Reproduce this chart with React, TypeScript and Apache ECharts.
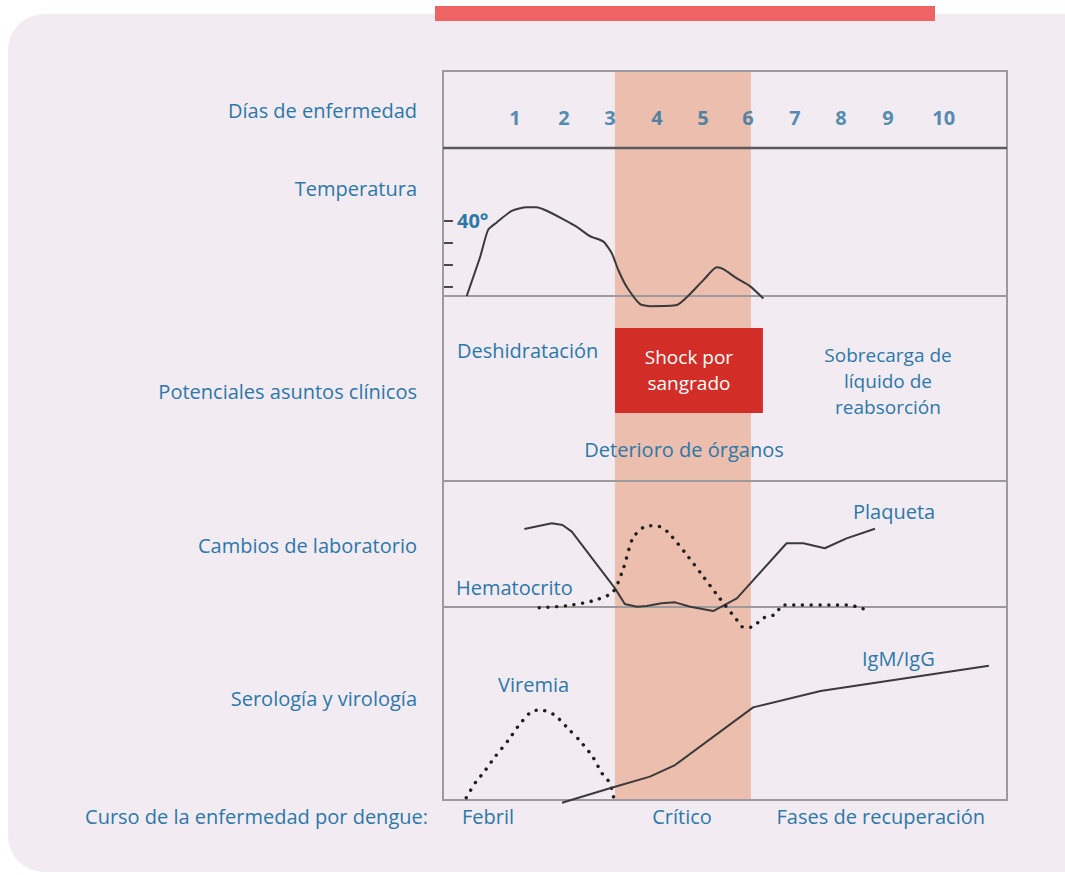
import React, { useEffect, useRef } from "react";
import * as echarts from "echarts";

// ---- data ----
const DAY_MIN = -0.55;
const DAY_MAX = 11.58;

const dayLabels = ["1", "2", "3", "4", "5", "6", "7", "8", "9", "10"];
const dayPositions = [1, 2.05, 3.04, 4.05, 5.04, 6.01, 7.02, 8.01, 9.02, 10.22];

const criticalStart = 3.148;
const criticalEnd = 6.073;

const tempTicks = [37, 38, 39, 40];
const tempLabelValue = [40];
const tempDays = [-0.04, 0.14, 0.25, 0.42, 0.6, 0.93, 1.25, 1.46, 1.68, 2.04, 2.32, 2.61, 2.9, 3.08, 3.22, 3.4, 3.69, 3.91, 4.48, 4.72, 5.05, 5.34, 5.48, 5.77, 6.05, 6.34];
const tempValues = [36.58, 37.68, 38.36, 39.58, 39.91, 40.45, 40.61, 40.61, 40.45, 40.06, 39.73, 39.3, 39.05, 38.52, 37.76, 37.0, 36.21, 36.12, 36.17, 36.58, 37.3, 37.88, 37.8, 37.38, 37.03, 36.47];

const shockDays = [3.15, 6.33];
const shockLevels = [36.8, 82.7];

const plateletDays = [1.2, 1.79, 2.02, 2.22, 3.15, 3.36, 3.62, 3.83, 4.15, 4.44, 4.77, 5.26, 5.77, 6.84, 7.2, 7.66, 8.13, 8.74];
const plateletValues = [61.9, 66.4, 65.1, 59.8, 14.8, 2.4, 0.2, 0.8, 2.9, 3.7, 0.2, -3.2, 6.9, 50.6, 50.6, 46.6, 54.5, 62.1];

const hematocritDays = [1.52, 2.11, 2.66, 3.1, 3.33, 3.53, 3.76, 3.92, 4.12, 4.29, 4.65, 5.01, 5.39, 5.77, 5.91, 6.09, 6.32, 6.61, 6.75, 8.17, 8.35, 8.52];
const hematocritValues = [-0.6, 1.0, 4.8, 11.7, 30.7, 54.5, 63.3, 64.5, 63.7, 59.3, 43.4, 26.0, 7.4, -10.3, -16.1, -16.1, -9.0, -5.6, 1.6, 1.6, 0.2, -1.8];

const viremiaDays = [-0.05, 0.16, 0.32, 0.57, 0.86, 1.06, 1.35, 1.56, 1.85, 2.17, 2.38, 2.67, 2.87, 3.04, 3.12];
const viremiaValues = [1.2, 9.5, 14.1, 22.4, 31.1, 38.0, 45.8, 46.6, 44.0, 36.3, 31.1, 22.4, 13.8, 8.7, 1.2];

const igDays = [2.01, 3.04, 3.9, 4.44, 6.12, 7.57, 11.19];
const igValues = [-1.4, 6.1, 12.1, 18.1, 48.0, 56.5, 69.6];

const rowLabels = ["Días de enfermedad", "Temperatura", "Potenciales asuntos clínicos", "Cambios de laboratorio", "Serología y virología"];
const phaseLabels = ["Curso de la enfermedad por dengue:", "Febril", "Crítico", "Fases de recuperación"];

// ---- styles ----
const BLUE = "#2b78a9";
const FONT = "Open Sans";
const LINE = "#3a3a3a";
const BORDER = "#9c9a9d";

const zip = (xs: number[], ys: number[]) => xs.map((x, i) => [x, ys[i]]);

export default function App() {
  const ref = useRef<HTMLDivElement>(null);

  useEffect(() => {
    if (!ref.current) return;
    const chart = echarts.init(ref.current, null, { renderer: "svg" });

    const L = 443;
    const W = 564;
    const gridBox = (top: number, height: number, show: boolean) => ({
      left: L,
      top,
      width: W,
      height,
      show,
      z: 3,
      borderColor: BORDER,
      borderWidth: 2,
      backgroundColor: "rgba(0,0,0,0)",
      containLabel: false,
    });

    const xAxes = [0, 1, 2, 3, 4, 5].map((i) => ({
      type: "value",
      gridIndex: i,
      min: DAY_MIN,
      max: DAY_MAX,
      show: false,
    }));

    const hiddenY = (i: number, min: number, max: number) => ({
      type: "value",
      gridIndex: i,
      min,
      max,
      show: false,
    });

    const yAxes: any[] = [
      hiddenY(0, 0, 1),
      {
        type: "value",
        gridIndex: 1,
        min: 36.58,
        max: 43.3,
        show: true,
        position: "left",
        axisLine: { show: false, onZero: false },
        splitLine: { show: false },
        axisTick: {
          show: true,
          inside: true,
          length: 10,
          customValues: tempTicks,
          lineStyle: { color: "#4a4a4a", width: 2 },
        },
        axisLabel: {
          show: true,
          inside: true,
          margin: 14,
          customValues: tempLabelValue,
          formatter: (v: number) => `${v}°`,
          color: BLUE,
          fontFamily: FONT,
          fontWeight: "bold",
          fontSize: 20,
          padding: [0, 0, 6, 0],
        },
      },
      hiddenY(2, 0, 100),
      hiddenY(3, 0, 100),
      hiddenY(4, 0, 100),
      hiddenY(5, 0, 1),
    ];

    const solid = { color: LINE, width: 2 };
    const dotted = { color: "#1e1e1e", width: 3.4, type: [0.1, 8.6], cap: "round" };

    const text = (t: string, x: number, y: number, align: string, opts: any = {}) => ({
      type: "text",
      z: 10,
      silent: true,
      style: {
        text: t,
        x,
        y,
        fill: opts.fill || BLUE,
        fontFamily: FONT,
        fontSize: opts.size || 20,
        fontWeight: opts.weight || "normal",
        textAlign: align,
        textVerticalAlign: "middle",
        lineHeight: opts.lineHeight || 27,
      },
    });

    const option: any = {
      animation: false,
      grid: [
        gridBox(71, 77, true),
        gridBox(148, 148, true),
        gridBox(296, 185, true),
        gridBox(481, 126, true),
        gridBox(607, 193, true),
        gridBox(71, 729, false),
      ],
      xAxis: xAxes,
      yAxis: yAxes,
      graphic: [
        { type: "rect", z: -10, silent: true, shape: { x: 8, y: 14, width: 1100, height: 858, r: 36 }, style: { fill: "#f3ebf2" } },
        { type: "rect", z: -9, silent: true, shape: { x: 435, y: 6, width: 500, height: 15 }, style: { fill: "#ee6464" } },
        { type: "line", z: 6, silent: true, shape: { x1: 443, y1: 148, x2: 1007, y2: 148 }, style: { stroke: "#5a5a5a", lineWidth: 2.5 } },
        text(rowLabels[0], 417, 110, "right"),
        text(rowLabels[1], 417, 188, "right"),
        text(rowLabels[2], 417, 391, "right"),
        text(rowLabels[3], 417, 545, "right"),
        text(rowLabels[4], 417, 698, "right"),
        text(phaseLabels[0], 428, 816, "right"),
        text(phaseLabels[1], 462, 816, "left"),
        text(phaseLabels[2], 682, 816, "center"),
        text(phaseLabels[3], 985, 816, "right"),
        text("Deshidratación", 457, 350, "left"),
        text("Sobrecarga de\nlíquido de\nreabsorción", 888, 381, "center", { size: 19, lineHeight: 26 }),
        text("Deterioro de órganos", 684, 449, "center"),
        text("Plaqueta", 853, 511, "left"),
        text("Hematocrito", 456, 587, "left"),
        text("Viremia", 498, 684, "left"),
        text("IgM/IgG", 862, 658, "left"),
      ],
      series: [
        {
          type: "line",
          xAxisIndex: 5,
          yAxisIndex: 5,
          data: [],
          z: 1,
          silent: true,
          markArea: {
            silent: true,
            itemStyle: { color: "#ecbeae" },
            data: [[{ xAxis: criticalStart }, { xAxis: criticalEnd }]],
          },
        },
        {
          type: "scatter",
          xAxisIndex: 0,
          yAxisIndex: 0,
          symbolSize: 1,
          itemStyle: { color: "rgba(0,0,0,0)" },
          silent: true,
          data: dayPositions.map((d, i) => [d, 0.39, dayLabels[i]]),
          label: {
            show: true,
            position: "inside",
            formatter: (p: any) => p.data[2],
            color: "#27729f",
            fontFamily: FONT,
            fontWeight: "bold",
            fontSize: 20,
          },
        },
        {
          type: "line",
          xAxisIndex: 1,
          yAxisIndex: 1,
          data: zip(tempDays, tempValues),
          showSymbol: false,
          smooth: 0.2,
          clip: false,
          lineStyle: solid,
        },
        {
          type: "line",
          xAxisIndex: 2,
          yAxisIndex: 2,
          data: [],
          z: 4,
          silent: true,
          markArea: {
            silent: true,
            itemStyle: { color: "#d22d27", opacity: 1 },
            label: {
              show: true,
              position: "inside",
              formatter: "Shock por\nsangrado",
              color: "#ffffff",
              fontFamily: FONT,
              fontSize: 19,
              lineHeight: 26,
            },
            data: [[{ xAxis: shockDays[0], yAxis: shockLevels[1] }, { xAxis: shockDays[1], yAxis: shockLevels[0] }]],
          },
        },
        {
          type: "line",
          xAxisIndex: 3,
          yAxisIndex: 3,
          data: zip(plateletDays, plateletValues),
          showSymbol: false,
          clip: false,
          lineStyle: solid,
        },
        {
          type: "line",
          xAxisIndex: 3,
          yAxisIndex: 3,
          data: zip(hematocritDays, hematocritValues),
          showSymbol: false,
          smooth: 0.25,
          clip: false,
          lineStyle: dotted,
        },
        {
          type: "line",
          xAxisIndex: 4,
          yAxisIndex: 4,
          data: zip(viremiaDays, viremiaValues),
          showSymbol: false,
          smooth: 0.25,
          clip: false,
          lineStyle: dotted,
        },
        {
          type: "line",
          xAxisIndex: 4,
          yAxisIndex: 4,
          data: zip(igDays, igValues),
          showSymbol: false,
          clip: false,
          lineStyle: solid,
        },
      ],
    };

    chart.setOption(option);
    return () => chart.dispose();
  }, []);

  return (
    <div
      ref={ref}
      style={{ position: "absolute", left: 0, top: 0, width: 1065, height: 875 }}
    />
  );
}
